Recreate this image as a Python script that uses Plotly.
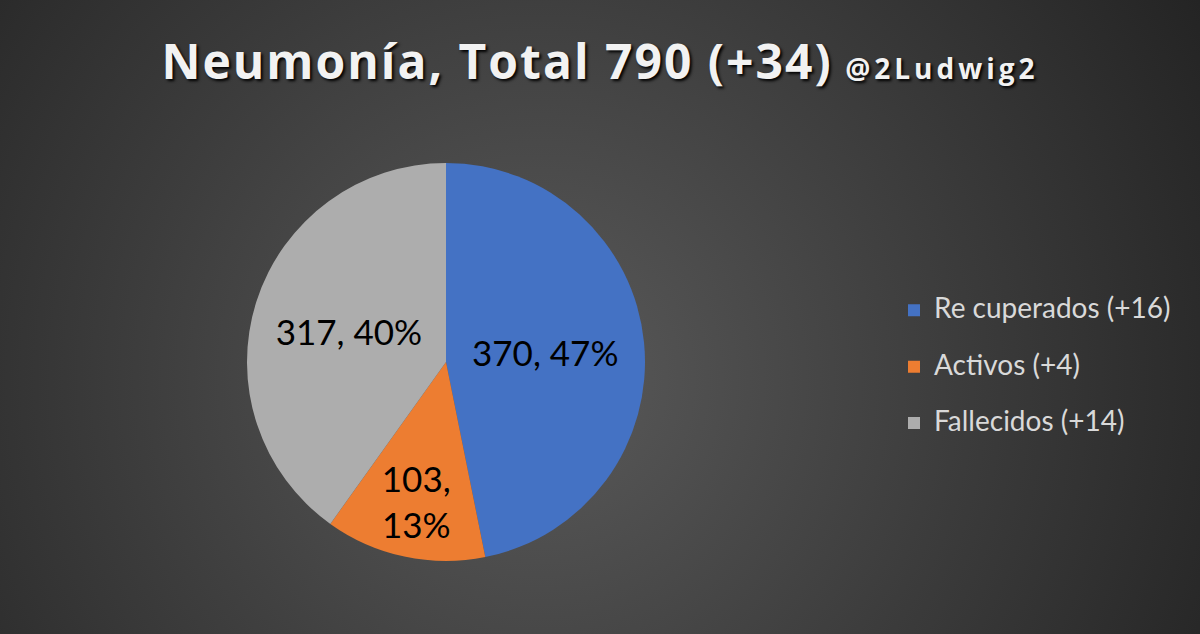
import plotly.graph_objects as go
import base64

# ---- data ----
categories = ["Re cuperados (+16)", "Activos (+4)", "Fallecidos (+14)"]
values = [370, 103, 317]
colors = ["#4472C4", "#ED7D31", "#ADADAD"]
label_templates = ["%{value}, %{percent:.0%}", "%{value},<br>%{percent:.0%}", "%{value}, %{percent:.0%}"]
title_main = "Neumonía, Total 790 (+34)"
title_tag = "@2Ludwig2"

W, H = 1200, 634

# radial gradient background as SVG data URI
svg = f"""<svg xmlns='http://www.w3.org/2000/svg' width='{W}' height='{H}' viewBox='0 0 {W} {H}'>
<defs><radialGradient id='g' gradientUnits='userSpaceOnUse' cx='540' cy='380' r='760'>
<stop offset='0' stop-color='#5a5a5a'/><stop offset='0.55' stop-color='#3c3c3c'/><stop offset='1' stop-color='#242424'/>
</radialGradient></defs><rect width='{W}' height='{H}' fill='url(#g)'/></svg>"""
bg_uri = "data:image/svg+xml;base64," + base64.b64encode(svg.encode()).decode()

legend_labels = [f"<span style='font-size:28px'>{c}</span><br> " for c in categories]

fig = go.Figure(go.Pie(
    labels=legend_labels,
    values=values,
    sort=False,
    direction="clockwise",
    rotation=0,
    marker=dict(colors=colors, line=dict(width=0)),
    texttemplate=label_templates,
    textposition="inside",
    insidetextorientation="horizontal",
    textfont=dict(family="Lato, Open Sans, sans-serif", size=35, color="#000000"),
    hoverinfo="skip",
    domain=dict(x=[(446 - 199) / W, (446 + 199) / W], y=[1 - 561 / H, 1 - 163 / H]),
))

fig.update_layout(
    width=W, height=H,
    margin=dict(l=0, r=0, t=0, b=0),
    paper_bgcolor="#3a3a3a",
    images=[dict(source=bg_uri, xref="paper", yref="paper", x=0, y=1, sizex=1, sizey=1,
                 sizing="stretch", xanchor="left", yanchor="top", layer="below")],
    title=dict(
        text=(f"<span style='letter-spacing:2px'><b>{title_main}</b></span> "
              f"<span style='font-size:28px;letter-spacing:4px'><b>{title_tag}</b></span>"),
        x=0.5, xanchor="center", y=1 - 62 / H, yanchor="middle",
        font=dict(family="Open Sans, sans-serif", size=48, color="#F2F2F2",
                  shadow="2px 2px 3px #000000"),
    ),
    legend=dict(
        x=0.745, xanchor="left", y=1 - 380 / H, yanchor="middle",
        font=dict(family="Lato, Open Sans, sans-serif", size=20.5, color="#D9D9D9"),
        valign="top",
        bgcolor="rgba(0,0,0,0)",
    ),
)

fig.write_html("out.html", config={"displayModeBar": False},
               post_script="document.body.style.margin='0';")
